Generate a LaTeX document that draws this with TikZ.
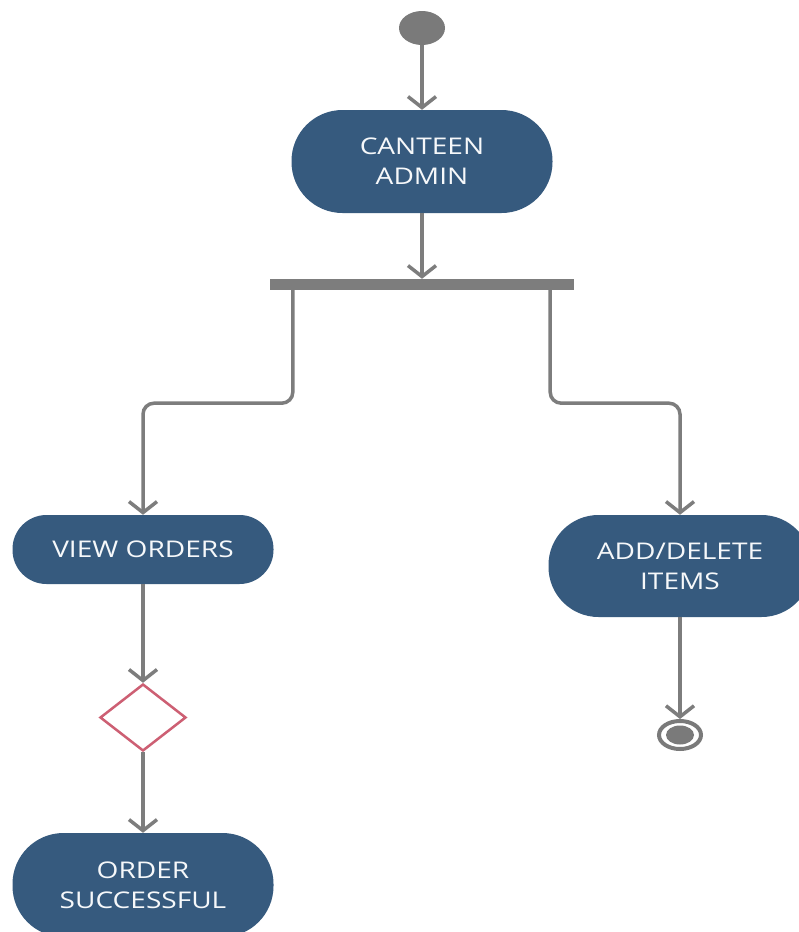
\documentclass[tikz,border=0pt]{standalone}
\usepackage{fontspec}
\newfontfamily\actfont[FakeStretch=1.22]{Open Sans}
\usetikzlibrary{arrows.meta,shapes.geometric}
\definecolor{actblue}{RGB}{54,90,126}
\definecolor{flowgray}{RGB}{125,125,125}
\definecolor{dotgray}{RGB}{122,122,122}
\definecolor{decred}{RGB}{205,95,115}
\definecolor{acttext}{RGB}{246,248,250}

\begin{document}
\begin{tikzpicture}[x=1pt,y=-1pt,
  act/.style={rectangle, fill=actblue, text=acttext, align=center,
    font=\actfont\fontsize{23}{30}\selectfont, inner sep=0pt},
  flow/.style={draw=flowgray, line width=3.5pt,
    -{Straight Barb[length=11pt,width=28pt]}},
  decision/.style={diamond, draw=decred, fill=white, line width=2.5pt,
    minimum width=86pt, minimum height=67pt, aspect=1.28, inner sep=0pt},
  ]
  \clip (0,0) rectangle (799,932);
  \fill[white] (0,0) rectangle (799,932);

  % initial state
  \node[ellipse, fill=dotgray, minimum width=46pt, minimum height=34pt,
    inner sep=0pt] (start) at (422,28) {};

  % activities
  \node[act, minimum width=261pt, minimum height=103pt,
    rounded corners=51pt] (ca) at (422,161.5) {CANTEEN\\ADMIN};
  \node[act, minimum width=261pt, minimum height=69pt,
    rounded corners=34pt] (vo) at (143,549.5) {VIEW ORDERS};
  \node[act, minimum width=263pt, minimum height=102pt,
    rounded corners=50pt] (ad) at (680,566) {ADD/DELETE\\ITEMS};
  \node[act, minimum width=261pt, minimum height=104pt,
    rounded corners=51pt] (os) at (143,885) {ORDER\\SUCCESSFUL};

  % fork bar
  \node[rectangle, fill=flowgray, minimum width=304pt, minimum height=11pt,
    inner sep=0pt] (bar) at (422,284.5) {};

  % decision
  \node[decision] (dec) at (143,717.5) {};

  % final state
  \node[ellipse, draw=dotgray, line width=4pt, fill=white,
    minimum width=42pt, minimum height=28pt, inner sep=0pt] (end) at (680,735) {};
  \node[ellipse, fill=dotgray, minimum width=28pt, minimum height=19pt,
    inner sep=0pt] (endcore) at (end) {};

  % transitions
  \draw[flow] (start) -- (ca.north);
  \draw[flow] (ca.south) -- (bar.north);
  \draw[flow, rounded corners=11pt]
    ([xshift=23pt]bar.south west) -- ++(0,113) -| (vo.north);
  \draw[flow, rounded corners=11pt]
    ([xshift=-24pt]bar.south east) -- ++(0,113) -| (ad.north);
  \draw[flow] (vo.south) -- (dec.north);
  \draw[flow] (dec.south) -- (os.north);
  \draw[flow] (ad.south) -- (end.north);
\end{tikzpicture}
\end{document}
